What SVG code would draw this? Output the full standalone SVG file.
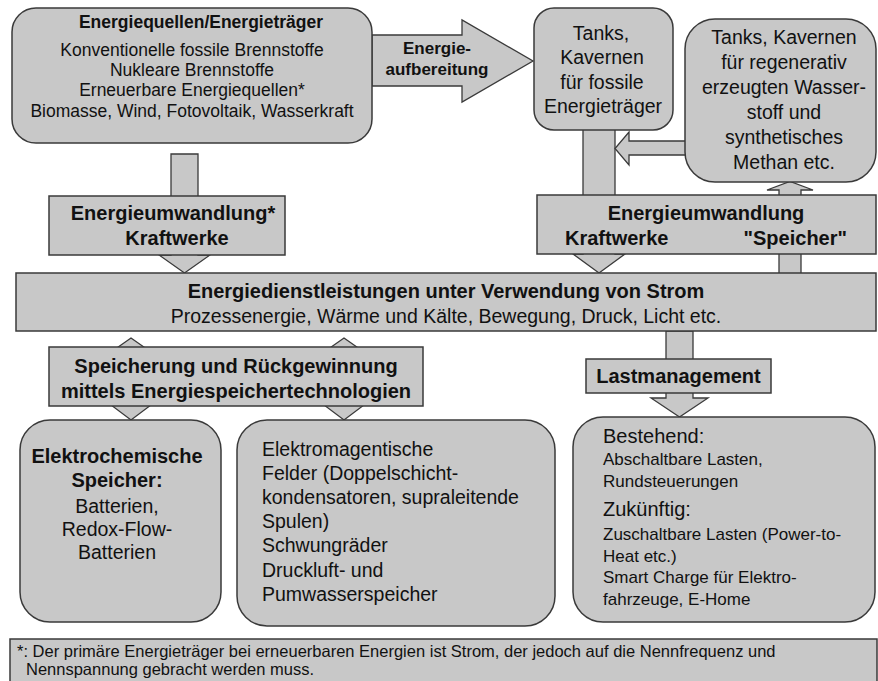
<svg xmlns="http://www.w3.org/2000/svg" width="878" height="681" viewBox="0 0 878 681">
<style>
.box{fill:#c8c8c8;stroke:#3a3a3a;stroke-width:1.5}
.arr{fill:#c8c8c8;stroke:#3a3a3a;stroke-width:1.3;stroke-linejoin:miter}
text{font-family:"Liberation Sans",Arial,Helvetica,sans-serif;fill:#111}
.b{font-weight:bold}
.c{text-anchor:middle}
.s17{font-size:17.5px}
.s19{font-size:19.5px}
.s20{font-size:20px}
</style>
<rect width="878" height="681" fill="#ffffff"/>
<g id="connectors">
  <polygon class="arr" points="171,154 198,154 198,255 210,255 184.5,273 159,255 171,255"/>
  <polygon class="arr" points="583,128 615,128 615,254 625,254 599,273 573,254 583,254"/>
  <polygon class="arr" points="686,141 629,141 629,132 615,148.5 629,165 629,155 686,155"/>
  <polygon class="arr" points="779,274 779,190 767,190 790,181.5 813,190 801,190 801,274"/>
  <polygon class="arr" points="666,331 693,331 693,398 708,398 679.5,417 651,398 666,398"/>
  <polygon class="arr" points="131,338 151,352 141,352 141,405 151,405 131,420 111,405 121,405 121,352 111,352"/>
  <polygon class="arr" points="344,338 364,352 354,352 354,405 364,405 344,420 324,405 334,405 334,352 324,352"/>
</g>
<g id="aufbereitung">
  <polygon class="arr" points="372,35 462,35 462,20 533,61 462,102 462,86 372,86"/>
  <text class="b c" x="437" y="54" font-size="17px">Energie-</text>
  <text class="b c" x="437" y="75" font-size="17px">aufbereitung</text>
</g>
<g id="quellen">
  <rect class="box" x="12" y="8" width="360" height="135" rx="24"/>
  <text class="b c s17" x="201" y="28">Energiequellen/Energieträger</text>
  <text class="c s17" x="192" y="56">Konventionelle fossile Brennstoffe</text>
  <text class="c s17" x="192" y="76">Nukleare Brennstoffe</text>
  <text class="c s17" x="192" y="96">Erneuerbare Energiequellen*</text>
  <text class="c s17" x="192" y="117">Biomasse, Wind, Fotovoltaik, Wasserkraft</text>
</g>
<g id="umwandlung-links">
  <rect class="box" x="49" y="196" width="236" height="59"/>
  <text class="b c s20" x="173" y="220">Energieumwandlung*</text>
  <text class="b c s20" x="177" y="245">Kraftwerke</text>
</g>
<g id="tanks-fossil">
  <rect class="box" x="534" y="8" width="139" height="122" rx="20"/>
  <text class="c s19" x="601" y="40">Tanks,</text>
  <text class="c s19" x="602" y="64">Kavernen</text>
  <text class="c s19" x="602" y="89">für fossile</text>
  <text class="c s19" x="603" y="113">Energieträger</text>
</g>
<g id="tanks-regenerativ">
  <rect class="box" x="685" y="19" width="191" height="163" rx="30"/>
  <text class="c s19" x="784" y="44">Tanks, Kavernen</text>
  <text class="c s19" x="784" y="69">für regenerativ</text>
  <text class="c s19" x="784" y="94">erzeugten Wasser-</text>
  <text class="c s19" x="784" y="119">stoff und</text>
  <text class="c s19" x="784" y="144">synthetisches</text>
  <text class="c s19" x="784" y="169">Methan etc.</text>
</g>
<g id="umwandlung-rechts">
  <rect class="box" x="537" y="195" width="339" height="59"/>
  <text class="b c s20" x="706" y="220">Energieumwandlung</text>
  <text class="b s20" x="565" y="245">Kraftwerke</text>
  <text class="b s20" x="847" y="245" text-anchor="end">"Speicher"</text>
</g>
<g id="dienstleistungen">
  <rect class="box" x="16" y="273" width="860" height="58"/>
  <text class="b c s20" x="446" y="298">Energiedienstleistungen unter Verwendung von Strom</text>
  <text class="c s19" x="446" y="323">Prozessenergie, Wärme und Kälte, Bewegung, Druck, Licht etc.</text>
</g>
<g id="speicherung">
  <rect class="box" x="49" y="347" width="374" height="59"/>
  <text class="b c s20" x="236" y="373">Speicherung und Rückgewinnung</text>
  <text class="b c s20" x="236" y="398">mittels Energiespeichertechnologien</text>
</g>
<g id="lastmanagement">
  <rect class="box" x="586" y="359" width="185" height="34"/>
  <text class="b c s20" x="678.5" y="383">Lastmanagement</text>
</g>
<g id="elektrochemisch">
  <rect class="box" x="20" y="420" width="201" height="202" rx="30"/>
  <text class="b c s20" x="117" y="463">Elektrochemische</text>
  <text class="b c s20" x="117" y="487">Speicher:</text>
  <text class="c s19" x="117" y="513">Batterien,</text>
  <text class="c s19" x="117" y="536">Redox-Flow-</text>
  <text class="c s19" x="117" y="559">Batterien</text>
</g>
<g id="elektromagnetisch">
  <rect class="box" x="237" y="420" width="318" height="206" rx="30"/>
  <text class="s19" x="262" y="456">Elektromagentische</text>
  <text class="s19" x="262" y="480">Felder (Doppelschicht-</text>
  <text class="s19" x="262" y="504">kondensatoren, supraleitende</text>
  <text class="s19" x="262" y="528">Spulen)</text>
  <text class="s19" x="262" y="552">Schwungräder</text>
  <text class="s19" x="262" y="577">Druckluft- und</text>
  <text class="s19" x="262" y="601">Pumwasserspeicher</text>
</g>
<g id="lasten">
  <rect class="box" x="573" y="417" width="302" height="205" rx="30"/>
  <text x="603" y="443" font-size="20px">Bestehend:</text>
  <text x="603" y="465" font-size="17px">Abschaltbare Lasten,</text>
  <text x="603" y="487" font-size="17px">Rundsteuerungen</text>
  <text x="603" y="516" font-size="20px">Zukünftig:</text>
  <text x="603" y="540" font-size="17px">Zuschaltbare Lasten (Power-to-</text>
  <text x="603" y="562" font-size="17px">Heat etc.)</text>
  <text x="603" y="583" font-size="17px">Smart Charge für Elektro-</text>
  <text x="603" y="605" font-size="17px">fahrzeuge, E-Home</text>
</g>
<g id="fussnote">
  <rect class="box" x="10" y="639" width="867" height="50"/>
  <text x="17" y="657" font-size="16.5px">*: Der primäre Energieträger bei erneuerbaren Energien ist Strom, der jedoch auf die Nennfrequenz und</text>
  <text x="26" y="675" font-size="16.5px">Nennspannung gebracht werden muss.</text>
</g>
</svg>
